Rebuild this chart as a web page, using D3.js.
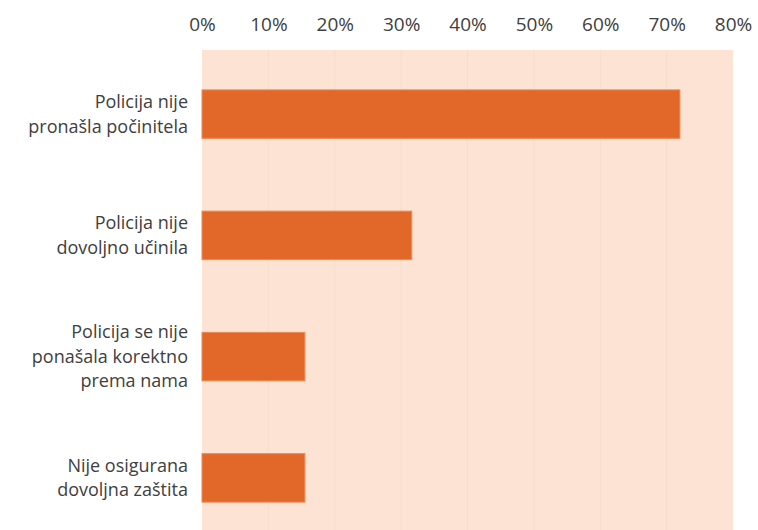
<!DOCTYPE html>
<html lang="hr">
<head>
<meta charset="UTF-8">
<title>Razlozi nezadovoljstva</title>
<style>
  body { margin: 0; padding: 0; background: #fff; font-family: "Open Sans", Lato, sans-serif; }
  svg text { fill: #404040; }
</style>
</head>
<body>
<svg id="chart" width="758" height="530"></svg>
<script src="https://d3js.org/d3.v7.min.js"></script>
<script>
// data
var categories = [
  ["Policija nije", "pronašla počinitela"],
  ["Policija nije", "dovoljno učinila"],
  ["Policija se nije", "ponašala korektno", "prema nama"],
  ["Nije osigurana", "dovoljna zaštita"]
];
var values = [72, 31.6, 15.5, 15.5];
var ticks = [0, 10, 20, 30, 40, 50, 60, 70, 80];

var svg = d3.select("#chart");
var plotLeft = 202, plotRight = 733, plotTop = 50, plotBottom = 530;

var x = d3.scaleLinear().domain([0, 80]).range([plotLeft, plotRight]);
var y = d3.scaleBand()
    .domain(d3.range(values.length))
    .range([53.5, 538.5])
    .paddingInner(0.6)
    .paddingOuter(0.3);

// background
svg.append("rect")
    .attr("x", plotLeft).attr("y", plotTop)
    .attr("width", plotRight - plotLeft).attr("height", plotBottom - plotTop)
    .attr("fill", "#fce3d4");

// faint gridlines
svg.selectAll("line.grid").data(ticks.slice(1, -1))
  .enter().append("line")
    .attr("class", "grid")
    .attr("x1", d => x(d)).attr("x2", d => x(d))
    .attr("y1", plotTop).attr("y2", plotBottom)
    .attr("stroke", "#f8dccb").attr("stroke-width", 1);

// top axis labels
svg.append("g")
    .attr("transform", "translate(0,31)")
    .call(d3.axisTop(x).tickValues(ticks).tickFormat(d => d + "%").tickSize(0).tickPadding(0))
    .call(g => g.select(".domain").remove())
    .selectAll("text")
    .style("font-family", '"Open Sans", Lato, sans-serif')
    .style("font-size", "19px")
    .attr("fill", "#404040");

// bars
svg.selectAll("rect.bar").data(values)
  .enter().append("rect")
    .attr("class", "bar")
    .attr("x", x(0))
    .attr("y", (d, i) => y(i))
    .attr("width", d => x(d) - x(0))
    .attr("height", y.bandwidth())
    .attr("fill", "#e2682a")
    .attr("stroke", "#ec8a55")
    .attr("stroke-width", 1);

// category labels, one text per line
var lh = 24.5;
categories.forEach(function (lines, i) {
  var cy = y(i) + y.bandwidth() / 2;
  var y0 = cy - (lines.length - 1) * lh / 2;
  svg.selectAll(null).data(lines)
    .enter().append("text")
      .attr("class", "cat")
      .attr("text-anchor", "end")
      .style("font-size", "18px")
      .attr("x", 188)
      .attr("y", (l, j) => y0 + j * lh)
      .attr("dy", "0.35em")
      .text(l => l);
});
</script>
</body>
</html>
